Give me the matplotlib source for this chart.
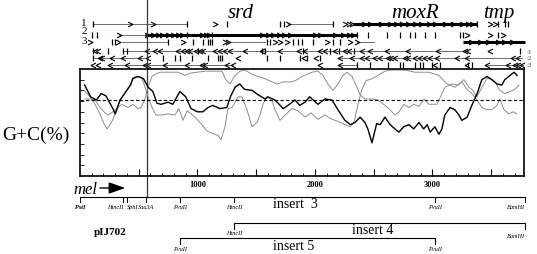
import matplotlib
matplotlib.use('Agg')
import matplotlib.pyplot as plt
from matplotlib.path import Path

plt.rcParams['font.family'] = ['Liberation Serif', 'DejaVu Serif']

# G+C curves: position (bp), G+C (%)
black_bp = [40, 90, 140, 180, 220, 280, 300, 340, 380, 430, 450, 490, 540, 580, 620, 655, 690, 750, 790, 850,
            900, 945, 1000, 1045, 1090, 1130, 1190, 1250, 1280, 1320, 1360, 1400, 1465, 1515, 1575, 1600, 1660,
            1730, 1770, 1830, 1870, 1915, 1955, 2025, 2085, 2145, 2195, 2255, 2300, 2340, 2385, 2425, 2450, 2485,
            2525, 2555, 2595, 2640, 2680, 2715, 2755, 2800, 2840, 2885, 2925, 2955, 2980, 3020, 3055, 3080, 3105,
            3150, 3190, 3225, 3250, 3295, 3335, 3380, 3420, 3465, 3505, 3550, 3590, 3615, 3660, 3695, 3720]
black_gc = [85, 74, 71, 77, 75, 63, 58, 71, 77, 85, 91, 93, 91, 83, 79, 68, 67, 69, 67, 79,
            74, 63, 60, 60, 64, 66, 63, 64, 74, 83, 86, 81, 80, 76, 72, 74, 71, 63, 66, 71,
            66, 69, 74, 67, 72, 71, 62, 52, 48, 50, 55, 50, 44, 31, 49, 48, 55, 48, 44, 41,
            46, 48, 44, 50, 44, 48, 41, 46, 39, 44, 57, 64, 62, 57, 52, 55, 66, 77, 90, 93,
            90, 86, 85, 90, 94, 97, 94]

grayB_bp = [43, 85, 128, 170, 213, 238, 281, 323, 357, 408, 451, 494, 519, 553, 579, 613, 638, 681, 766, 834,
            894, 936, 996, 1064, 1149, 1208, 1242, 1277, 1319, 1362, 1404, 1464, 1515, 1574, 1634, 1676, 1736,
            1804, 1847, 1889, 1974, 2025, 2068, 2110, 2153, 2196, 2238, 2272, 2315, 2357, 2383, 2425, 2485, 2536,
            2596, 2638, 2681, 2715, 2757, 2800, 2842, 2885, 2927, 2970, 3038, 3081, 3106, 3166, 3217, 3268, 3310,
            3344, 3378, 3421, 3464, 3498, 3532, 3574, 3617, 3659, 3702, 3736]
grayB_gc = [72, 72, 71, 64, 59, 57, 60, 64, 67, 64, 67, 63, 64, 72, 83, 93, 95, 97, 97, 97,
            94, 96, 97, 98, 98, 98, 90, 86, 94, 98, 99, 95, 93, 91, 88, 86, 88, 88, 90, 93,
            97, 98, 94, 86, 80, 86, 94, 97, 93, 83, 76, 72, 72, 71, 66, 62, 57, 60, 67, 64,
            67, 65, 72, 67, 67, 77, 83, 86, 85, 90, 83, 80, 74, 83, 91, 91, 88, 80, 77, 79,
            81, 85]

grayC_bp = [43, 85, 128, 170, 204, 230, 255, 281, 315, 349, 383, 426, 451, 494, 519, 545, 579, 613, 647, 698,
            749, 808, 842, 877, 911, 945, 979, 1030, 1081, 1123, 1174, 1200, 1234, 1259, 1294, 1345, 1379, 1421,
            1464, 1506, 1532, 1557, 1591, 1634, 1659, 1702, 1745, 1804, 1855, 1915, 1966, 2025, 2085, 2145, 2196,
            2255, 2298, 2332, 2366, 2400, 2434, 2485, 2536, 2596, 2655, 2766, 2851, 2970, 3055, 3123, 3191, 3251,
            3293, 3336, 3378, 3421, 3464, 3506, 3549, 3574, 3608, 3651, 3685, 3719]
grayC_gc = [79, 74, 67, 58, 49, 44, 48, 53, 63, 72, 78, 85, 92, 93, 93, 86, 74, 64, 57, 57,
            58, 57, 63, 52, 61, 58, 55, 49, 42, 40, 38, 34, 46, 63, 64, 74, 74, 62, 46, 50,
            57, 67, 74, 71, 62, 52, 57, 63, 61, 55, 59, 53, 57, 53, 51, 48, 46, 50, 67, 81,
            89, 91, 94, 98, 99, 99, 97, 97, 94, 86, 83, 88, 81, 77, 71, 64, 62, 62, 66, 72,
            62, 58, 60, 58]

gc_mean = 71

# ORF map, three forward and three reverse frames (bp)
f1_thin = [(110, 910), (1770, 2150)]
f1_thick = [(2320, 3380)]
f1_stop = [110, 910, 1250, 1700, 1735, 2150, 3380, 3555, 3615, 3640]
f1_start = [425, 620, 1150, 1770, 2255, 2285, 2315, 2420, 2470, 2560, 2640, 2690, 2740, 2790, 2850,
            2900, 2970, 3020, 3110, 3170, 3250, 3300, 3340, 3490, 3530]

f2_thin = [(330, 550)]
f2_thick = [(550, 2360)]
f2_stop = [100, 145, 910, 1120, 2360, 2450, 2610, 2720, 2810, 2850, 2935, 3020, 3235, 3260, 3560]
f2_start = [330, 570, 620, 660, 700, 745, 790, 830, 870, 1040, 1070, 1100, 1550, 1600, 1640, 1690,
            1740, 1790, 2000, 2040, 2170, 2240, 2290, 2320, 3295, 3490, 3600]

f3_thin = [(355, 750), (1260, 1575), (2360, 2500)]
f3_thick = [(3260, 3790)]
f3_stop = [270, 300, 750, 960, 1045, 1090, 1105, 1120, 1590, 1615, 1810, 1855, 1890, 1985, 2150, 2210]
f3_start = [85, 325, 875, 1235, 1260, 1660, 1700, 1760, 2100, 2300, 2355, 3330, 3400, 3470, 3560,
            3610, 3680]

r1_thin = [(365, 3300)]
r1_stop = [110, 240, 365, 400, 1000, 1545, 1575, 1900, 2130, 2200, 2330, 3745]
r1_start = [130, 150, 570, 640, 680, 830, 880, 910, 935, 990, 1020, 1050, 1150, 1190, 1235, 1275,
            1400, 1550, 1700, 1860, 1915, 2040, 2085, 2170, 2255, 2290, 2400, 2470, 2610, 2790,
            3050, 3275, 3300, 3490]

r2_thin = [(110, 580), (2215, 3760)]
r2_stop = [110, 705, 810, 850, 955, 1090, 1170, 1190, 1210, 1590, 1700, 1870, 1930, 2040]
r2_start = [170, 190, 270, 365, 510, 580, 1345, 1910, 2010, 2215, 2315, 2400, 2440, 2510, 2550,
            2620, 2650, 2680, 2765, 2790, 2850, 2890, 2935, 2980, 3040, 3210, 3295, 3685, 3725]

r3_thin = [(255, 1300), (2210, 2360), (3465, 3770)]
r3_stop = [2360, 2470, 2620, 2720, 2750, 2850, 2895, 2920, 2995, 3065, 3300, 3335]
r3_start = [110, 150, 255, 400, 550, 575, 720, 910, 1040, 1065, 1250, 1300, 2040, 2210, 3020,
            3290, 3465, 3640, 3700, 3730, 3760]

genes = ['srd', 'moxR', 'tmp']
gene_pos = [1370, 2850, 3565]

# restriction map
sites = ['PstI', 'HincII', 'SphI', 'Sau3A', 'PvuII', 'HincII', 'PvuII', 'BamHI']
site_pos = [0, 370, 400, 565, 855, 1310, 3020, 3790]
insert4 = (1310, 3790)
insert5 = (855, 3020)

fig = plt.figure(figsize=(5.37, 2.55), dpi=100)

# background axes in bp (x) and pixels (y)
bg = fig.add_axes([0, 0, 1, 1])
bg.set_xlim(-681, 3889)
bg.set_ylim(255, 0)
bg.axis('off')

ax = fig.add_axes([80 / 537, 78 / 255, 444 / 537, 107 / 255])
ax.patch.set_alpha(0)
ax.set_xlim(0, 3779)
ax.set_ylim(0, 100)

ax.plot(grayB_bp, grayB_gc, color='#8c8c8c', lw=0.7)
ax.plot(grayC_bp, grayC_gc, color='#8c8c8c', lw=0.7)
ax.plot(black_bp, black_gc, color='black', lw=1.0)
ax.axhline(gc_mean, color='black', lw=0.8, ls=(0, (3, 2)))

ax.set_xticks(range(500, 3779, 500))
ax.set_xticklabels(['' if t % 1000 else str(t) for t in range(500, 3779, 500)],
                   fontsize=6, fontweight='bold')
ax.set_xticks(range(100, 3779, 100), minor=True)
ax.set_yticks(range(10, 100, 10))
ax.set_yticklabels([])
ax.tick_params(axis='x', which='major', direction='in', length=5, width=0.8, pad=3)
ax.tick_params(axis='x', which='minor', direction='in', length=2.5, width=0.6)
ax.tick_params(axis='y', direction='in', length=3, width=0.6)
for s in ax.spines.values():
    s.set_linewidth(1.2)

bg.text(-374, 135, 'G+C(%)', fontsize=14, ha='center', va='center')

# ORF rows
fwd = Path([(-1, 1), (1, 0), (-1, -1)], [Path.MOVETO, Path.LINETO, Path.LINETO])
rev = Path([(1, 1), (-1, 0), (1, -1)], [Path.MOVETO, Path.LINETO, Path.LINETO])
rows = [(25, f1_thin, f1_thick, f1_stop, f1_start, fwd),
        (36, f2_thin, f2_thick, f2_stop, f2_start, fwd),
        (43, f3_thin, f3_thick, f3_stop, f3_start, fwd),
        (52, r1_thin, [], r1_stop, r1_start, rev),
        (59, r2_thin, [], r2_stop, r2_start, rev),
        (66, r3_thin, [], r3_stop, r3_start, rev)]
for y, thin, thick, stop, start, mk in rows:
    for a, b in thin:
        bg.plot([a, b], [y, y], color='#555555', lw=0.6)
    for a, b in thick:
        bg.plot([a, b], [y, y], color='black', lw=2.2, solid_capstyle='butt')
    bg.plot(stop, [y] * len(stop), ls='', marker='|', ms=4.5, mew=0.9, color='black')
    bg.plot(start, [y] * len(start), ls='', marker=mk, ms=3.5, mew=0.8,
            mfc='none', mec='black')

for i, y in enumerate([23, 32, 41]):
    bg.text(34, y, str(i + 1), fontsize=8, ha='center', va='center')
for i, y in enumerate([52, 59, 66]):
    bg.text(3800, y, ':' + str(i + 1), fontsize=5, ha='left', va='center', color='#444444')

for g, p in zip(genes, gene_pos):
    bg.text(p, 18, g, fontsize=15, style='italic', ha='center', va='baseline')

# Sau3A line through everything
bg.plot([566, 566], [0, 198], color='#333333', lw=0.9)

# insert 3 / pIJ702 line
bg.plot([0, 3790], [198, 198], color='black', lw=0.8)
for s, p in zip(sites, site_pos):
    bg.plot([p, p], [198, 203], color='black', lw=0.7)
    ha = 'center'
    if p == 370:
        ha = 'right'
    elif p == 400:
        ha = 'left'
    elif p == 3790:
        ha = 'right'
    bg.text(p, 208, s, fontsize=4.5, style='italic', fontweight='bold' if s == 'PstI' else 'normal',
            ha=ha, va='center')
bg.text(1640, 205, 'insert  3', fontsize=10, ha='left', va='center')
bg.text(255, 233, 'pIJ702', fontsize=8, fontweight='bold', ha='center', va='center')

bg.text(43, 190, 'mel', fontsize=12, style='italic', ha='center', va='center')
bg.annotate('', xy=(385, 189), xytext=(170, 189),
            arrowprops=dict(arrowstyle='-|>,head_length=1.0,head_width=0.35', color='black', lw=1.0,
                            shrinkA=0, shrinkB=0))

# insert 4
bg.plot([insert4[0], insert4[0], insert4[1], insert4[1]], [230, 224, 224, 230], color='black', lw=0.8)
bg.text(insert4[0], 234, 'HincII', fontsize=4.5, style='italic', ha='center', va='center')
bg.text(insert4[1], 237, 'BamHI', fontsize=4.5, style='italic', ha='right', va='center')
bg.text(2493, 231, 'insert 4', fontsize=10, ha='center', va='center')

# insert 5
bg.plot([insert5[0], insert5[0], insert5[1], insert5[1]], [245, 239, 239, 245], color='black', lw=0.8)
bg.text(insert5[0], 250, 'PvuII', fontsize=4.5, style='italic', ha='center', va='center')
bg.text(insert5[1], 250, 'PvuII', fontsize=4.5, style='italic', ha='center', va='center')
bg.text(1640, 247, 'insert 5', fontsize=10, ha='left', va='center')

fig.savefig('out.png', dpi=100)
